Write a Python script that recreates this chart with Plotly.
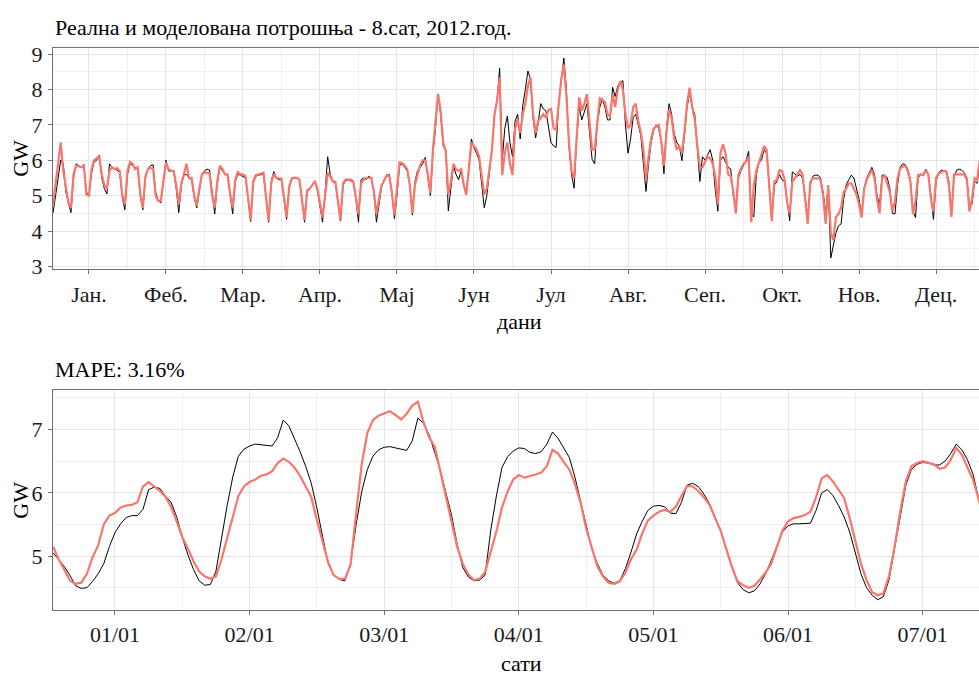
import plotly.graph_objects as go
import pandas as pd

# ---------------- data: daily values at 8h, 2012 ----------------
days = list(range(1, 367))

real_daily = [
    4.50,
    5.00, 5.58, 6.00, 5.90, 5.10, 4.80, 4.52,
    5.50, 5.90, 5.85, 5.80, 5.88, 5.10, 5.00,
    5.65, 5.95, 6.00, 6.15, 5.50, 5.20, 5.05,
    5.90, 5.80, 5.75, 5.72, 5.65, 4.95, 4.60,
    5.60, 5.90, 5.85, 5.78, 5.75, 5.00, 4.60,
    5.50, 5.75, 5.85, 5.87, 5.10, 4.85, 4.80,
    5.50, 6.00, 5.70, 5.70, 5.68, 5.20, 4.52,
    5.30, 5.58, 5.60, 5.50, 5.45, 4.95, 4.65,
    5.15, 5.60, 5.70, 5.75, 5.72, 5.00, 4.48,
    5.35, 5.80, 5.70, 5.60, 5.58, 5.00, 4.48,
    5.40, 5.60, 5.58, 5.55, 5.50, 4.90, 4.27,
    5.35, 5.55, 5.58, 5.60, 5.60, 4.95, 4.25,
    5.40, 5.68, 5.50, 5.45, 5.45, 4.90, 4.33,
    5.20, 5.50, 5.52, 5.50, 5.45, 4.80, 4.25,
    5.10, 5.20, 5.28, 5.40, 5.15, 4.75, 4.25,
    5.10, 6.10, 5.60, 5.40, 5.35, 4.85, 4.28,
    5.30, 5.42, 5.45, 5.42, 5.38, 4.90, 4.25,
    5.45, 5.50, 5.45, 5.55, 5.50, 5.10, 4.25,
    4.80, 5.25, 5.45, 5.55, 5.60, 5.10, 4.35,
    5.00, 5.85, 5.90, 5.80, 5.70, 5.30, 4.45,
    5.40, 5.70, 5.80, 5.90, 6.08, 5.60, 5.00,
    6.20, 6.90, 7.85, 7.30, 6.40, 6.30, 4.57,
    5.30, 5.85, 5.60, 5.45, 5.70, 5.30, 5.03,
    5.90, 6.60, 6.35, 6.20, 6.00, 5.40, 4.66,
    5.00, 5.70, 6.30, 7.30, 7.70, 8.60, 6.00,
    6.90, 7.25, 6.50, 6.10, 7.10, 7.30, 6.60,
    7.55, 8.00, 8.52, 8.30, 7.20, 6.63, 7.05,
    7.60, 7.45, 7.40, 7.00, 6.50, 6.40, 6.36,
    7.60, 8.30, 8.89, 8.00, 6.40, 5.60, 5.21,
    6.60, 7.50, 7.14, 7.40, 7.60, 6.80, 6.03,
    5.90, 7.00, 7.50, 7.74, 7.50, 7.14, 7.14,
    8.06, 7.80, 8.10, 8.20, 8.25, 7.00, 6.20,
    6.60, 7.20, 7.30, 6.96, 6.70, 5.90, 5.12,
    5.90, 6.50, 6.85, 7.00, 6.90, 6.50, 5.62,
    6.90, 7.60, 7.30, 6.75, 6.50, 6.40, 5.99,
    6.70, 7.50, 7.90, 7.50, 7.30, 6.20, 5.40,
    6.10, 6.00, 6.15, 6.30, 6.00, 5.15, 4.56,
    6.00, 6.10, 5.95, 5.80, 5.76, 5.00, 4.70,
    5.50, 5.70, 5.85, 6.00, 6.25, 4.50, 4.40,
    5.60, 5.94, 6.00, 6.30, 6.20, 5.30, 4.30,
    5.30, 5.39, 5.60, 5.45, 5.39, 4.80, 4.29,
    5.67, 5.60, 5.55, 5.60, 5.50, 5.00, 4.30,
    5.30, 5.55, 5.58, 5.58, 5.50, 5.10, 4.50,
    5.30, 3.24, 3.60, 3.95, 4.15, 4.20, 4.90,
    5.30, 5.45, 5.58, 5.50, 5.20, 4.90, 4.45,
    5.20, 5.50, 5.65, 5.80, 5.60, 5.00, 4.75,
    5.58, 5.58, 5.50, 5.20, 4.50, 4.48, 5.30,
    5.80, 5.90, 5.88, 5.75, 5.45, 4.55, 4.38,
    5.50, 5.60, 5.60, 5.75, 5.60, 5.00, 4.33,
    5.40, 5.65, 5.72, 5.70, 5.70, 5.40, 4.50,
    5.50, 5.72, 5.75, 5.72, 5.65, 5.50, 4.70,
    4.75, 5.40, 5.35, 5.90, 5.80, 5.30, 4.60,
    5.10,
]

model_daily = [
    4.75,
    5.30, 6.00, 6.50, 5.70, 5.20, 4.80, 4.66,
    5.60, 5.85, 5.82, 5.80, 5.85, 5.03, 5.00,
    5.75, 6.00, 6.05, 6.12, 5.60, 5.30, 5.20,
    5.70, 5.80, 5.75, 5.78, 5.70, 5.00, 4.75,
    5.70, 5.95, 5.90, 5.75, 5.80, 5.05, 4.65,
    5.55, 5.75, 5.78, 5.76, 5.00, 4.85, 4.85,
    5.40, 5.94, 5.75, 5.70, 5.70, 5.30, 4.75,
    5.35, 5.60, 5.90, 5.50, 5.50, 5.00, 4.70,
    5.20, 5.60, 5.65, 5.65, 5.62, 5.00, 4.66,
    5.40, 5.85, 5.75, 5.60, 5.60, 5.05, 4.66,
    5.45, 5.67, 5.60, 5.60, 5.55, 4.90, 4.30,
    5.40, 5.58, 5.60, 5.62, 5.65, 4.95, 4.28,
    5.35, 5.62, 5.50, 5.50, 5.48, 4.95, 4.38,
    5.25, 5.48, 5.50, 5.50, 5.45, 4.85, 4.30,
    5.15, 5.20, 5.30, 5.42, 5.20, 4.80, 4.38,
    5.00, 5.65, 5.55, 5.40, 5.40, 4.90, 4.30,
    5.35, 5.45, 5.45, 5.45, 5.40, 4.95, 4.48,
    5.35, 5.45, 5.50, 5.50, 5.50, 5.10, 4.48,
    4.90, 5.30, 5.42, 5.58, 5.55, 5.10, 4.45,
    5.10, 5.94, 5.92, 5.85, 5.75, 5.30, 4.50,
    5.30, 5.60, 5.85, 6.00, 6.00, 5.60, 5.07,
    6.30, 7.00, 7.88, 7.40, 6.50, 6.25, 5.03,
    5.40, 5.90, 5.75, 5.70, 5.75, 5.30, 5.03,
    5.80, 6.50, 6.40, 6.30, 6.10, 5.50, 5.03,
    5.20, 5.76, 6.30, 7.30, 7.70, 8.34, 5.58,
    6.20, 6.50, 5.90, 5.58, 6.90, 7.14, 6.77,
    7.30, 7.60, 8.10, 8.34, 7.30, 6.77, 7.10,
    7.20, 7.30, 7.20, 7.42, 7.45, 6.90, 6.86,
    7.70, 8.30, 8.70, 7.80, 6.50, 5.70, 5.49,
    6.80, 7.78, 7.40, 7.60, 7.87, 7.10, 6.30,
    6.30, 7.05, 7.75, 7.70, 7.64, 7.30, 7.25,
    7.87, 7.50, 8.00, 8.24, 8.00, 7.30, 6.90,
    7.00, 7.50, 7.60, 7.10, 6.80, 6.30, 5.44,
    6.10, 6.60, 6.90, 6.96, 7.00, 6.50, 5.85,
    6.80, 7.42, 7.20, 6.60, 6.30, 6.40, 6.20,
    6.80, 7.60, 8.05, 7.50, 7.15, 6.40, 5.80,
    5.80, 5.94, 6.10, 6.05, 5.90, 5.55, 4.75,
    6.20, 6.45, 6.20, 5.60, 5.55, 5.12, 4.50,
    5.58, 5.76, 5.90, 5.96, 6.10, 4.25, 5.30,
    5.70, 5.95, 6.20, 6.40, 6.30, 5.20, 4.28,
    5.40, 5.45, 5.72, 5.70, 5.45, 4.80, 4.50,
    5.39, 5.50, 5.60, 5.72, 5.60, 4.84, 4.20,
    5.39, 5.49, 5.49, 5.49, 5.45, 5.00, 4.20,
    5.30, 3.95, 3.74, 4.40, 4.48, 4.66, 5.10,
    5.20, 5.35, 5.35, 5.20, 5.03, 4.75, 4.38,
    5.20, 5.45, 5.60, 5.72, 5.50, 4.90, 4.50,
    5.50, 5.58, 5.35, 5.10, 4.56, 4.84, 5.49,
    5.76, 5.82, 5.85, 5.70, 5.40, 4.48, 4.85,
    5.58, 5.60, 5.58, 5.72, 5.60, 4.90, 4.55,
    5.50, 5.62, 5.65, 5.70, 5.68, 5.30, 4.40,
    5.60, 5.60, 5.60, 5.60, 5.60, 5.45, 4.55,
    4.90, 5.49, 5.44, 6.00, 5.80, 5.30, 4.60,
    5.20,
]

month_ticks = [15, 45, 75, 105, 135, 165, 195, 225, 255, 285, 315, 345]
month_minor = [30, 60, 90, 120, 150, 180, 210, 240, 270, 300, 330, 360]
month_labels = ["Јан.", "Феб.", "Мар.", "Апр.", "Мај", "Јун",
                "Јул", "Авг.", "Сеп.", "Окт.", "Нов.", "Дец."]

# ---------------- data: hourly values, first week ----------------
hours = pd.date_range("2011-12-31 13:00", periods=168, freq="h")

real_hourly = [
    5.05, 4.94, 4.83, 4.69, 4.53, 4.49, 4.50, 4.60, 4.72, 4.88, 5.15, 5.37,
    5.51, 5.61, 5.64, 5.64, 5.74, 6.05, 6.09, 6.07, 5.95, 5.85, 5.62, 5.30,
    5.02, 4.79, 4.61, 4.54, 4.55, 4.76, 5.30, 5.80, 6.25, 6.58, 6.69, 6.74,
    6.77, 6.76, 6.74, 6.74, 6.87, 7.15, 7.06, 6.86, 6.65, 6.42, 6.15, 5.76,
    5.31, 4.88, 4.70, 4.63, 4.61, 4.88, 5.50, 6.02, 6.37, 6.58, 6.68, 6.72,
    6.73, 6.71, 6.69, 6.67, 6.82, 7.18, 7.10, 6.92, 6.64, 6.36, 6.00, 5.65,
    5.19, 4.82, 4.67, 4.61, 4.62, 4.70, 5.41, 5.95, 6.40, 6.57, 6.66, 6.71,
    6.70, 6.64, 6.62, 6.65, 6.77, 6.96, 6.86, 6.72, 6.56, 6.25, 5.88, 5.50,
    5.12, 4.88, 4.70, 4.61, 4.57, 4.61, 4.80, 5.06, 5.35, 5.55, 5.72, 5.79,
    5.80, 5.78, 5.68, 5.67, 5.85, 6.12, 6.15, 6.10, 5.98, 5.83, 5.62, 5.40,
    5.10, 4.82, 4.58, 4.47, 4.42, 4.45, 4.56, 4.72, 4.93, 5.15, 5.38, 5.48,
    5.51, 5.51, 5.51, 5.52, 5.72, 6.00, 6.05, 5.96, 5.80, 5.62, 5.38, 5.05,
    4.72, 4.50, 4.38, 4.31, 4.36, 4.62, 5.12, 5.65, 6.12, 6.37, 6.45, 6.48,
    6.47, 6.44, 6.44, 6.50, 6.62, 6.77, 6.68, 6.52, 6.29, 5.90, 5.50, 5.10,
]

model_hourly = [
    5.15, 4.94, 4.78, 4.61, 4.56, 4.58, 4.72, 4.98, 5.17, 5.50, 5.64, 5.68,
    5.77, 5.80, 5.81, 5.85, 6.10, 6.17, 6.10, 6.03, 5.94, 5.78, 5.55, 5.30,
    5.12, 4.92, 4.76, 4.68, 4.64, 4.68, 4.95, 5.27, 5.63, 5.95, 6.10, 6.17,
    6.21, 6.27, 6.29, 6.34, 6.47, 6.54, 6.49, 6.40, 6.27, 6.11, 5.93, 5.57,
    5.24, 4.90, 4.70, 4.64, 4.64, 4.86, 5.68, 6.46, 6.95, 7.15, 7.22, 7.25,
    7.29, 7.23, 7.16, 7.25, 7.38, 7.44, 7.12, 6.88, 6.73, 6.34, 5.96, 5.55,
    5.15, 4.88, 4.71, 4.62, 4.64, 4.75, 5.05, 5.39, 5.77, 6.02, 6.21, 6.28,
    6.24, 6.26, 6.29, 6.32, 6.42, 6.68, 6.62, 6.49, 6.37, 6.14, 5.85, 5.44,
    5.12, 4.84, 4.68, 4.58, 4.56, 4.60, 4.74, 4.95, 5.10, 5.36, 5.56, 5.64,
    5.70, 5.73, 5.70, 5.78, 5.95, 6.11, 6.10, 6.03, 5.93, 5.81, 5.60, 5.40,
    5.11, 4.83, 4.60, 4.54, 4.50, 4.53, 4.63, 4.74, 4.88, 5.15, 5.40, 5.55,
    5.60, 5.62, 5.65, 5.70, 5.93, 6.23, 6.28, 6.18, 6.05, 5.92, 5.60, 5.25,
    4.88, 4.62, 4.43, 4.38, 4.41, 4.68, 5.15, 5.70, 6.18, 6.42, 6.47, 6.50,
    6.47, 6.45, 6.38, 6.40, 6.52, 6.71, 6.60, 6.40, 6.20, 5.90, 5.50, 5.10,
]

day_ticks = ["2012-01-01", "2012-01-02", "2012-01-03", "2012-01-04",
             "2012-01-05", "2012-01-06", "2012-01-07"]
day_labels = ["01/01", "02/01", "03/01", "04/01", "05/01", "06/01", "07/01"]
noon_ticks = ["2011-12-31 12:00", "2012-01-01 12:00", "2012-01-02 12:00",
              "2012-01-03 12:00", "2012-01-04 12:00", "2012-01-05 12:00",
              "2012-01-06 12:00", "2012-01-07 12:00"]

# ---------------- styling ----------------
W, H = 979, 683
FONT = "Liberation Serif"
RED = "#F8766D"
FRAME = "#707070"
GRID = "#e6e6e6"
GRID_MINOR = "#efefef"

fig = go.Figure()
fig.add_trace(go.Scatter(x=days, y=real_daily, mode="lines",
                         line=dict(color="black", width=1), xaxis="x", yaxis="y",
                         showlegend=False))
fig.add_trace(go.Scatter(x=days, y=model_daily, mode="lines",
                         line=dict(color=RED, width=2.2), xaxis="x", yaxis="y",
                         showlegend=False))
fig.add_trace(go.Scatter(x=hours, y=real_hourly, mode="lines",
                         line=dict(color="black", width=1), xaxis="x2", yaxis="y2",
                         showlegend=False))
fig.add_trace(go.Scatter(x=hours, y=model_hourly, mode="lines",
                         line=dict(color=RED, width=2.2), xaxis="x2", yaxis="y2",
                         showlegend=False))

xdom = [53 / W, 1.0]
top_dom = [(H - 269.3) / H, (H - 42.7) / H]
bot_dom = [(H - 618.3) / H, (H - 392.7) / H]

TICKFONT = dict(family=FONT, size=22, color="#1a1a1a")
common_axis = dict(showline=True, linecolor=FRAME, linewidth=1.4,
                   ticks="outside", ticklen=4, tickwidth=1.2, tickcolor=FRAME,
                   showgrid=True, gridcolor=GRID, gridwidth=1.1, zeroline=False,
                   tickfont=TICKFONT)

fig.update_layout(
    width=W, height=H,
    margin=dict(l=0, r=0, t=0, b=0),
    paper_bgcolor="white", plot_bgcolor="white",
    xaxis=dict(domain=xdom, anchor="y", range=[1, 1 + 926 / 2.567],
               tickmode="array", tickvals=month_ticks, ticktext=month_labels,
               mirror=True, ticklabelstandoff=1,
               minor=dict(tickmode="array", tickvals=month_minor, showgrid=True,
                          gridcolor=GRID_MINOR, gridwidth=0.8, ticks=""),
               **common_axis),
    yaxis=dict(domain=top_dom, anchor="x", range=[2.928, 9.18],
               tickmode="linear", tick0=3, dtick=1,
               minor=dict(tickmode="linear", tick0=3.5, dtick=1, showgrid=True,
                          gridcolor=GRID_MINOR, gridwidth=0.8, ticks=""),
               ticklabelstandoff=1,
               **common_axis),
    xaxis2=dict(domain=xdom, anchor="y2", type="date",
                range=["2011-12-31 12:57", "2012-01-07 10:03"],
                tickmode="array", tickvals=day_ticks, ticktext=day_labels,
                mirror=True, ticklabelstandoff=1,
                minor=dict(tickmode="array", tickvals=noon_ticks, showgrid=True,
                           gridcolor=GRID_MINOR, gridwidth=0.8, ticks=""),
                **common_axis),
    yaxis2=dict(domain=bot_dom, anchor="x2", range=[4.151, 7.633],
                tickmode="array", tickvals=[5, 6, 7],
                minor=dict(tickmode="array", tickvals=[4.5, 5.5, 6.5, 7.5],
                           showgrid=True, gridcolor=GRID_MINOR, gridwidth=0.8,
                           ticks=""),
                ticklabelstandoff=1,
                **common_axis),
)

def py(px):
    return (H - px) / H

ann_font = dict(family=FONT, size=22, color="black")
fig.add_annotation(text="Реална и моделована потрошња - 8.сат, 2012.год.",
                   xref="paper", yref="paper", x=53 / W, y=py(22.5),
                   xanchor="left", yanchor="middle", showarrow=False, font=ann_font)
fig.add_annotation(text="MAPE: 3.16%",
                   xref="paper", yref="paper", x=53 / W, y=py(372.5),
                   xanchor="left", yanchor="middle", showarrow=False, font=ann_font)
fig.add_annotation(text="дани", xref="paper", yref="paper", x=519 / W, y=py(323),
                   xanchor="center", yanchor="middle", showarrow=False, font=ann_font)
fig.add_annotation(text="сати", xref="paper", yref="paper", x=521 / W, y=py(673),
                   xanchor="center", yanchor="middle", showarrow=False, font=ann_font)
fig.add_annotation(text="GW", xref="paper", yref="paper", x=20.5 / W, y=py(156),
                   xanchor="center", yanchor="middle", textangle=-90,
                   showarrow=False, font=ann_font)
fig.add_annotation(text="GW", xref="paper", yref="paper", x=20.5 / W, y=py(506),
                   xanchor="center", yanchor="middle", textangle=-90,
                   showarrow=False, font=ann_font)

fig.write_html("out.html")
